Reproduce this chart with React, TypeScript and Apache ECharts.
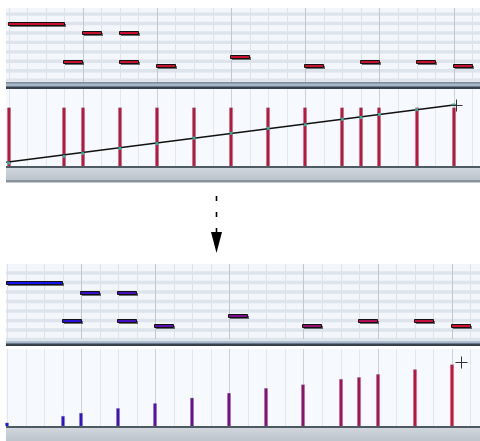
import React, { useEffect, useRef } from "react";
import * as echarts from "echarts";

// ---- data ----
const gridBeats = [0, 1, 2, 3, 5, 6, 7, 9, 10, 11, 13, 14, 15, 17, 18, 19, 21, 22, 23, 25];
const barLineBeats = [4, 8, 12, 16, 20, 24];
const stripePitches = [57, 59, 61, 63, 65, 67, 69, 71];

const noteStarts = [0, 4, 6, 3, 6, 8, 12, 16, 19, 22, 24];
const noteLengths = [3, 1, 1, 1, 1, 1, 1, 1, 1, 1, 1];
const notePitches = [69, 67, 67, 61, 61, 60, 62, 60, 61, 61, 60];
const noteVelocitiesAfter = [5, 21, 29, 16, 29, 37, 54, 68, 80, 93, 101];

const velocityBeats = [0, 3, 4, 6, 8, 10, 12, 14, 16, 18, 19, 20, 22, 24];
const velocitiesBefore = [96, 96, 96, 96, 96, 96, 96, 96, 96, 96, 96, 96, 96, 96];
const velocitiesAfter = [5, 16, 21, 29, 37, 46, 54, 62, 68, 77, 80, 85, 93, 101];

const rampBeats = [-0.12, 24.1];
const rampValues = [6, 101];
const cursorTop = [24.1, 100.6];
const cursorBottom = [24.5, 106];

const RED = "#c8102e";

export default function App() {
  const ref = useRef<HTMLDivElement>(null);
  useEffect(() => {
    if (!ref.current) return;
    const chart = echarts.init(ref.current, null, { renderer: "svg" });

    const topNoteData = noteStarts.map((s, i) => [s, noteLengths[i], notePitches[i], noteVelocitiesAfter[i]]);
    const topVelData = velocityBeats.map((b, i) => [b, velocitiesBefore[i]]);
    const bottomVelData = velocityBeats.map((b, i) => [b, velocitiesAfter[i]]);
    const rampData = rampBeats.map((b, i) => [b, rampValues[i]]);

    const gridLineSeries = (xi: number, beats: number[], color: string, z: number) => ({
      type: "custom",
      xAxisIndex: xi,
      yAxisIndex: xi,
      z,
      silent: true,
      encode: { x: 0 },
      data: beats.map((b) => [b]),
      renderItem: (params: any, api: any) => {
        const cs = params.coordSys;
        const x = Math.round(api.coord([api.value(0), 0])[0]) + 0.5;
        return {
          type: "line",
          shape: { x1: x, y1: cs.y, x2: x, y2: cs.y + cs.height },
          style: { stroke: color, lineWidth: 1 },
        };
      },
    });

    const stripeSeries = (xi: number) => ({
      type: "custom",
      xAxisIndex: xi,
      yAxisIndex: xi,
      z: 1,
      silent: true,
      encode: { y: 0 },
      data: stripePitches.map((p) => [p]),
      renderItem: (params: any, api: any) => {
        const cs = params.coordSys;
        const p = api.value(0);
        const y1 = api.coord([0, p + 0.36])[1];
        const y2 = api.coord([0, p - 0.36])[1];
        return {
          type: "rect",
          shape: { x: cs.x, y: y1, width: cs.width, height: y2 - y1 },
          style: { fill: "#dde4ec" },
        };
      },
    });

    const noteSeries = (xi: number, useVisual: boolean) => ({
      type: "custom",
      xAxisIndex: xi,
      yAxisIndex: xi,
      z: 5,
      encode: { x: 0, y: 2 },
      data: topNoteData,
      renderItem: (params: any, api: any) => {
        const s = api.value(0);
        const len = api.value(1);
        const p = api.value(2);
        const p0 = api.coord([s, p]);
        const p1 = api.coord([s + len, p]);
        const h = 3;
        const x = Math.round(p0[0]) - 0.5;
        const w = Math.round(p1[0] - p0[0]);
        const y = Math.round(p0[1] - h / 2) + 0.5;
        const color = useVisual ? api.visual("color") : RED;
        return {
          type: "group",
          children: [
            { type: "rect", shape: { x: x + 1.5, y: y + 1.5, width: w, height: h }, style: { fill: "rgba(0,0,0,0.55)" } },
            { type: "rect", shape: { x, y, width: w, height: h }, style: { fill: color, stroke: "#111", lineWidth: 1 } },
          ],
        };
      },
    });

    const velBarSeries = (xi: number, data: number[][], useVisual: boolean) => ({
      type: "custom",
      xAxisIndex: xi,
      yAxisIndex: xi,
      z: 5,
      encode: { x: 0, y: 1 },
      data,
      renderItem: (params: any, api: any) => {
        const b = api.value(0);
        const v = api.value(1);
        const top = api.coord([b, v]);
        const base = api.coord([b, 0]);
        const color = useVisual ? api.visual("color") : "#c4123a";
        const x = Math.round(top[0]) - 1.5;
        return {
          type: "rect",
          shape: { x, y: top[1], width: 3, height: base[1] - top[1] },
          style: { fill: color, stroke: "rgba(110,110,125,0.55)", lineWidth: 0.6 },
        };
      },
    });

    const cursorSeries = (xi: number, pt: number[]) => ({
      type: "custom",
      xAxisIndex: xi,
      yAxisIndex: xi,
      z: 9,
      silent: true,
      encode: { x: 0, y: 1 },
      data: [pt],
      renderItem: (params: any, api: any) => {
        const c = api.coord([api.value(0), api.value(1)]);
        const x = Math.round(c[0]) + 0.5;
        const y = Math.round(c[1]) + 0.5;
        return {
          type: "group",
          children: [
            { type: "line", shape: { x1: x - 6, y1: y, x2: x + 6, y2: y }, style: { stroke: "#333", lineWidth: 1 } },
            { type: "line", shape: { x1: x, y1: y - 6, x2: x, y2: y + 6 }, style: { stroke: "#333", lineWidth: 1 } },
          ],
        };
      },
    });

    const grayBar = (y: number, h: number) => [
      { type: "rect", z: 0, shape: { x: 6, y, width: 474, height: h },
        style: { fill: new echarts.graphic.LinearGradient(0, 0, 0, 1, [
          { offset: 0, color: "#d3d9de" }, { offset: 1, color: "#bcc4cc" }]) } },
      { type: "rect", z: 1, shape: { x: 6, y, width: 474, height: 2 }, style: { fill: "#4d5963" } },
    ];
    const separator = (y: number) => [
      { type: "rect", z: 0, shape: { x: 6, y, width: 474, height: 7 }, style: { fill: "#a3b6ca" } },
      { type: "rect", z: 1, shape: { x: 6, y, width: 474, height: 1.5 }, style: { fill: "#7e8b96" } },
      { type: "rect", z: 1, shape: { x: 6, y: y + 4.5, width: 474, height: 2.5 }, style: { fill: "#36414c" } },
    ];

    const xTop = { type: "value", min: -0.135, max: 25.418, show: false };
    const xBot = { type: "value", min: -0.08, max: 25.54, show: false };

    chart.setOption({
      animation: false,
      backgroundColor: "#ffffff",
      grid: [
        { left: 6, top: 8, width: 474, height: 74 },
        { left: 6, top: 89, width: 474, height: 77 },
        { left: 6, top: 264, width: 474, height: 75 },
        { left: 6, top: 349, width: 474, height: 77 },
      ],
      xAxis: [
        { ...xTop, gridIndex: 0 },
        { ...xTop, gridIndex: 1 },
        { ...xBot, gridIndex: 2 },
        { ...xBot, gridIndex: 3 },
      ],
      yAxis: [
        { type: "value", gridIndex: 0, min: 56.6, max: 72.3, show: false },
        { type: "value", gridIndex: 1, min: 0, max: 127, show: false },
        { type: "value", gridIndex: 2, min: 57.1, max: 72.9, show: false },
        { type: "value", gridIndex: 3, min: 0, max: 127, show: false },
      ],
      visualMap: [
        { type: "continuous", show: false, seriesIndex: 10, dimension: 3, min: 5, max: 101,
          inRange: { color: ["#1414ee", "#7a0c8c", "#d80e30"] } },
        { type: "continuous", show: false, seriesIndex: 14, dimension: 1, min: 5, max: 101,
          inRange: { color: ["#1414ee", "#7a0c8c", "#d80e30"] } },
      ],
      graphic: [
        { type: "rect", z: 0, shape: { x: 6, y: 8, width: 474, height: 74 }, style: { fill: "#f3f6fb" } },
        { type: "rect", z: 0, shape: { x: 6, y: 89, width: 474, height: 77 }, style: { fill: "#f6f9fd" } },
        ...separator(82),
        ...grayBar(166, 14),
        { type: "rect", z: 1, shape: { x: 6, y: 180, width: 474, height: 2.5 }, style: { fill: "#8a939c" } },
        { type: "rect", z: 0, shape: { x: 6, y: 264, width: 474, height: 75 }, style: { fill: "#f3f6fb" } },
        { type: "rect", z: 0, shape: { x: 6, y: 349, width: 474, height: 77 }, style: { fill: "#f6f9fd" } },
        ...separator(339),
        ...grayBar(426, 15),
        { type: "line", z: 1, shape: { x1: 216.5, y1: 196, x2: 216.5, y2: 233 },
          style: { stroke: "#000", lineWidth: 1.6, lineDash: [5, 11] } },
        { type: "polygon", z: 1, shape: { points: [[211, 232], [222, 232], [216.5, 253]] }, style: { fill: "#000" } },
      ],
      series: [
        stripeSeries(0),                                   // 0
        gridLineSeries(0, gridBeats, "#dee3ea", 2),        // 1
        gridLineSeries(0, barLineBeats, "#c3c6cc", 2),     // 2
        noteSeries(0, false),                              // 3
        gridLineSeries(1, gridBeats, "#e2e7ee", 2),        // 4
        gridLineSeries(1, barLineBeats, "#cdd1d7", 2),     // 5
        velBarSeries(1, topVelData, false),                // 6
        { type: "line", xAxisIndex: 1, yAxisIndex: 1, z: 7, data: rampData, symbol: "none",
          lineStyle: { color: "#111", width: 1.5 } },     // 7
        { type: "scatter", xAxisIndex: 1, yAxisIndex: 1, z: 8, symbol: "rect", symbolSize: 3,
          itemStyle: { color: "#3cc8b0" }, data: bottomVelData }, // 8
        stripeSeries(2),                                   // 9
        noteSeries(2, true),                               // 10
        gridLineSeries(2, gridBeats, "#dee3ea", 2),        // 11
        gridLineSeries(2, barLineBeats, "#c3c6cc", 2),     // 12
        gridLineSeries(3, gridBeats, "#e2e7ee", 2),        // 13
        velBarSeries(3, bottomVelData, true),              // 14
        gridLineSeries(3, barLineBeats, "#cdd1d7", 2),     // 15
        cursorSeries(1, cursorTop),                        // 16
        cursorSeries(3, cursorBottom),                     // 17
      ],
    });
    return () => chart.dispose();
  }, []);
  return (
    <div
      ref={ref}
      style={{ position: "fixed", left: 0, top: 0, width: 480, height: 441, background: "#fff" }}
    />
  );
}
